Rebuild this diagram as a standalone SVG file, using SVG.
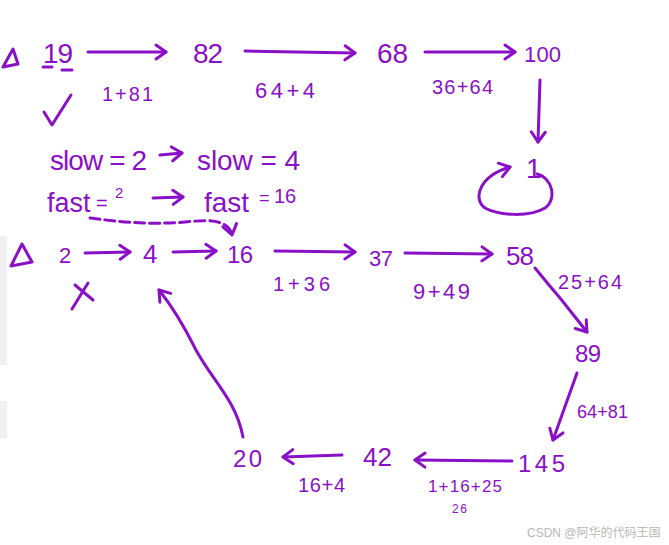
<svg xmlns="http://www.w3.org/2000/svg" width="669" height="545" viewBox="0 0 669 545">
<defs>
<style>
.t{font-family:"Liberation Sans","DejaVu Sans",sans-serif;fill:#8a10c8}
.s{fill:none;stroke:#8a10c8;stroke-width:3;stroke-linecap:round;stroke-linejoin:round}
.c{fill:none;stroke:#8a10c8;stroke-width:3;stroke-linecap:round;stroke-linejoin:round;marker-end:url(#ah)}
.wm{font-family:"Liberation Sans","Noto Sans CJK SC",sans-serif;fill:#b8b8b8;font-size:12px}
</style>
<marker id="ah" markerUnits="userSpaceOnUse" markerWidth="20" markerHeight="20" viewBox="-12 -10 14 20" refX="0" refY="0" orient="auto">
<path d="M -10 -7 L 0 0 L -10 7" fill="none" stroke="#8a10c8" stroke-width="3" stroke-linecap="round" stroke-linejoin="round"/>
</marker>
</defs>
<rect width="669" height="545" fill="#ffffff"/>
<rect x="0" y="236" width="7" height="129" fill="#f0f0f3"/>
<rect x="0" y="401" width="7" height="37" fill="#f0f0f3"/>

<g id="mark-top">
<path class="s" d="M 3 67 L 13 49 L 18 64 Z"/>
</g>
<g id="mark-bottom">
<path class="s" d="M 11 266 L 22 244 L 32 262 Z"/>
</g>

<g id="n19">
<text class="t" x="43" y="63" font-size="28" textLength="30">19</text>
<path class="s" d="M 43 67 L 52 67 M 62 70 L 72 70"/>
</g>
<g id="check">
<path class="s" d="M 44 112 L 52 125 L 71 95"/>
</g>
<g id="n82"><text class="t" x="193" y="63" font-size="28" textLength="30">82</text></g>
<g id="n68"><text class="t" x="377" y="63" font-size="28" textLength="31">68</text></g>
<g id="n100"><text class="t" x="524" y="62" font-size="22" textLength="37">100</text></g>
<g id="n1"><text class="t" x="526" y="178" font-size="28">1</text></g>

<g id="slowfast">
<text class="t" x="50" y="170" font-size="28" textLength="97">slow = 2</text>
<text class="t" x="197" y="170" font-size="28" textLength="103">slow = 4</text>
<text class="t" x="47" y="212" font-size="27">fast</text>
<text class="t" x="96" y="210" font-size="20">=</text>
<text class="t" x="115" y="198" font-size="15">2</text>
<text class="t" x="204" y="212" font-size="28">fast</text>
<text class="t" x="259" y="204" font-size="18">=</text>
<text class="t" x="274" y="203" font-size="20" textLength="22">16</text>
</g>

<g id="n2"><text class="t" x="59" y="263" font-size="22">2</text></g>
<g id="cross"><path class="s" d="M 75 285 L 93 300 M 88 283 L 72 309"/></g>
<g id="n4"><text class="t" x="143" y="263" font-size="26">4</text></g>
<g id="n16"><text class="t" x="227" y="263" font-size="24" textLength="26">16</text></g>
<g id="n37"><text class="t" x="369" y="266" font-size="22" textLength="24">37</text></g>
<g id="n58"><text class="t" x="506" y="265" font-size="26" textLength="28">58</text></g>
<g id="n89"><text class="t" x="575" y="362" font-size="24" textLength="26">89</text></g>
<g id="n145"><text class="t" x="518" y="472" font-size="24" textLength="47">145</text></g>
<g id="n42"><text class="t" x="363" y="466" font-size="26" textLength="29">42</text></g>
<g id="n20"><text class="t" x="233" y="467" font-size="24" textLength="29">20</text></g>

<g id="connectors">
<path class="c" d="M 88 52 L 166 52"/>
<path class="c" d="M 245 51 L 355 53"/>
<path class="c" d="M 425 52 L 515 52"/>
<path class="c" d="M 540 80 L 538 142"/>
<path class="c" d="M 537 174 C 553 178, 557 200, 545 208 C 530 217, 500 216, 485 208 C 472 198, 480 176, 510 167"/>
<path class="c" d="M 160 155 L 182 153"/>
<path class="c" d="M 153 198 L 183 197"/>
<path class="c" stroke-width="2" stroke-dasharray="10 5" d="M 90 218 C 120 222, 150 225, 185 222 C 205 220, 228 218, 232 235"/>
<path class="c" d="M 85 253 L 130 252"/>
<path class="c" d="M 173 252 L 216 251"/>
<path class="c" d="M 275 251 L 355 252"/>
<path class="c" d="M 405 253 L 492 254"/>
<path class="c" d="M 535 268 Q 548 284 560 298 L 587 332"/>
<path class="c" d="M 577 373 L 553 440"/>
<path class="c" d="M 512 461 L 415 460"/>
<path class="c" d="M 342 455 L 283 457"/>
<path class="c" d="M 243 437 C 236 400, 212 380, 196 350 C 182 322, 172 306, 159 290"/>
</g>

<g id="labels">
<text class="t" x="102" y="101" font-size="20" textLength="51">1+81</text>
<text class="t" x="255" y="98" font-size="22" textLength="60">64+4</text>
<text class="t" x="432" y="94" font-size="20" textLength="61">36+64</text>
<text class="t" x="273" y="291" font-size="20" textLength="57">1+36</text>
<text class="t" x="413" y="299" font-size="22" textLength="57">9+49</text>
<text class="t" x="558" y="289" font-size="20" textLength="64">25+64</text>
<text class="t" x="577" y="418" font-size="18" textLength="51">64+81</text>
<text class="t" x="298" y="492" font-size="20" textLength="47">16+4</text>
<text class="t" x="428" y="492" font-size="17" textLength="74">1+16+25</text>
<text class="t" x="452" y="513" font-size="12" textLength="15">26</text>
</g>

<text class="wm" x="527" y="537">CSDN @阿华的代码王国</text>
</svg>
